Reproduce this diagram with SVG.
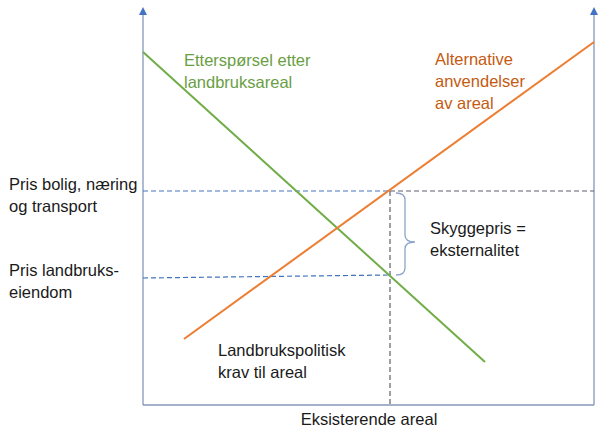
<svg xmlns="http://www.w3.org/2000/svg" width="602" height="434" viewBox="0 0 602 434">
<style>
text{font-family:"Liberation Sans",Arial,sans-serif;font-size:16.5px;fill:#1a1a1a}
.axis{stroke:#8497B8;stroke-width:1.3;fill:none}
.dashb{stroke:#4472C4;stroke-width:1.2;stroke-dasharray:5,3;fill:none}
.dashg{stroke:#5F5F6F;stroke-width:1.2;stroke-dasharray:5,3;fill:none}
.g{fill:#6A9E45}
.o{fill:#C55A11}
.head{fill:#4472C4}
</style>
<g id="axes">
<line class="axis" x1="143" y1="405" x2="143" y2="14"/>
<line class="axis" x1="594" y1="405" x2="594" y2="14"/>
<line class="axis" x1="143" y1="405" x2="594" y2="405"/>
<polygon class="head" points="143,7 147,15 139,15"/>
<polygon class="head" points="594,7 598,15 590,15"/>
</g>
<g id="connectors">
<line class="dashb" x1="143" y1="191" x2="390" y2="191"/>
<line class="dashg" x1="390" y1="191" x2="594" y2="191"/>
<line class="dashb" x1="143" y1="278" x2="390" y2="275"/>
<line class="dashg" x1="390" y1="191" x2="390" y2="405"/>
<line x1="143" y1="52" x2="485" y2="362" stroke="#70AD47" stroke-width="2"/>
<line x1="184" y1="339" x2="594" y2="42" stroke="#ED7D31" stroke-width="2"/>
<path d="M396,193 Q405,193 405,200 L405,235 Q405,242 415,242 Q405,242 405,249 L405,268 Q405,275 396,275" stroke="#8EA3C8" stroke-width="1.3" fill="none"/>
</g>
<g id="demand-label">
<text class="g" x="184" y="66">Etterspørsel etter</text>
<text class="g" x="184" y="88">landbruksareal</text>
</g>
<g id="alt-label">
<text class="o" x="435" y="65">Alternative</text>
<text class="o" x="435" y="87">anvendelser</text>
<text class="o" x="435" y="109">av areal</text>
</g>
<g id="price-high">
<text x="9" y="190">Pris bolig, næring</text>
<text x="9" y="212">og transport</text>
</g>
<g id="price-low">
<text x="9" y="276">Pris landbruks-</text>
<text x="9" y="298">eiendom</text>
</g>
<g id="shadow">
<text x="430" y="234">Skyggepris =</text>
<text x="430" y="256">eksternalitet</text>
</g>
<g id="policy">
<text x="218" y="356">Landbrukspolitisk</text>
<text x="218" y="378">krav til areal</text>
</g>
<g id="xlabel">
<text x="369" y="425" text-anchor="middle">Eksisterende areal</text>
</g>
</svg>
